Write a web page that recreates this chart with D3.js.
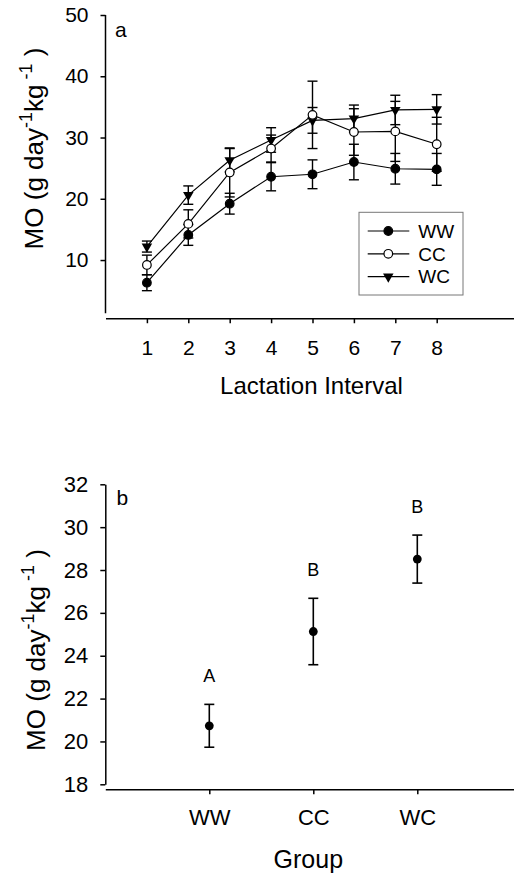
<!DOCTYPE html>
<html>
<head>
<meta charset="utf-8">
<script src="https://cdn.jsdelivr.net/npm/d3@7"></script>
<style>
  body { margin: 0; background: #fff; }
  text { font-family: "Liberation Sans", Arial, sans-serif; fill: #000; }
</style>
</head>
<body>
<div id="chart"></div>
<script>

// panel a data
var intervals = [1, 2, 3, 4, 5, 6, 7, 8];
var wwMean = [6.3, 14.1, 19.2, 23.6, 24.0, 26.0, 24.9, 24.8];
var wwErr  = [1.3, 1.7, 1.7, 2.3, 2.35, 2.9, 2.5, 2.6];
var ccMean = [9.2, 15.9, 24.3, 28.2, 33.7, 30.9, 31.0, 28.9];
var ccErr  = [1.6, 2.3, 4.0, 2.2, 5.5, 3.8, 4.9, 4.4];
var wcMean = [12.2, 20.6, 26.3, 29.6, 32.8, 33.1, 34.5, 34.6];
var wcErr  = [0.9, 1.5, 1.9, 2.0, 2.1, 2.2, 2.4, 2.4];
var yTicksA = [10, 20, 30, 40, 50];

// panel b data
var groups = ["WW", "CC", "WC"];
var groupMean = [20.73, 25.13, 28.51];
var groupErr = [1.0, 1.55, 1.12];
var groupLetters = ["A", "B", "B"];
var yTicksB = [18, 20, 22, 24, 26, 28, 30, 32];

var svg = d3.select("#chart").append("svg")
    .attr("width", 514)
    .attr("height", 880);

var series = [
    {name: "WW", mean: wwMean, err: wwErr, shape: "filled"},
    {name: "CC", mean: ccMean, err: ccErr, shape: "open"},
    {name: "WC", mean: wcMean, err: wcErr, shape: "tri"}
];

function drawMarker(sel, shape) {
    if (shape == "tri") {
        sel.append("path")
            .attr("d", d3.symbol().type(d3.symbolTriangle).size(48))
            .attr("transform", "rotate(180)")
            .attr("fill", "#000");
    } else {
        sel.append("circle")
            .attr("r", 4.3)
            .attr("fill", shape == "open" ? "#fff" : "#000")
            .attr("stroke", "#000")
            .attr("stroke-width", 1.2);
    }
}

function yLabel(g, x, y) {
    var t = g.append("text")
        .attr("transform", "translate(" + x + "," + y + ") rotate(-90)")
        .attr("text-anchor", "middle")
        .style("font-size", "26px");
    t.append("tspan").text("MO (g day");
    t.append("tspan").attr("dy", -11).style("font-size", "18px").text("-1");
    t.append("tspan").attr("dy", 11).text("kg");
    t.append("tspan").attr("dy", -11).style("font-size", "18px").text(" -1");
    t.append("tspan").attr("dy", 11).text(" )");
}

// ---------- panel a ----------
var xA = d3.scaleLinear().domain([0, 10]).range([105.5, 519.5]);
var yA = d3.scaleLinear().domain([0, 50]).range([321.3, 15]);

var gA = svg.append("g");

var xAxisA = gA.append("g")
    .attr("transform", "translate(0," + yA(0.5) + ")")
    .call(d3.axisBottom(xA).tickValues(intervals).tickSize(5).tickPadding(17).tickSizeOuter(0));
xAxisA.selectAll("text").style("font-size", "21px");

var yAxisA = gA.append("g")
    .attr("transform", "translate(" + xA(0) + ",0)")
    .call(d3.axisLeft(yA).tickValues(yTicksA).tickSize(5).tickPadding(12).tickSizeOuter(0));
yAxisA.select(".domain").attr("d", "M0," + yA(1.3) + "V" + yA(50));
yAxisA.selectAll("text").style("font-size", "21px");

gA.selectAll(".domain, .tick line").attr("stroke", "#000").attr("stroke-width", 1.5);

gA.append("text")
    .attr("x", 311.5).attr("y", 394)
    .attr("text-anchor", "middle")
    .style("font-size", "24px")
    .text("Lactation Interval");

yLabel(gA, 43, 148.5);

gA.append("text").attr("x", 115).attr("y", 36.5).style("font-size", "21px").text("a");

var line = d3.line()
    .x(function(d, i) { return xA(intervals[i]); })
    .y(function(d) { return yA(d); });

series.forEach(function(s) {
    gA.append("path")
        .attr("d", line(s.mean))
        .attr("fill", "none")
        .attr("stroke", "#000")
        .attr("stroke-width", 1.2);

    var eb = gA.append("g").selectAll("g")
        .data(s.mean)
        .enter().append("g");
    eb.append("line")
        .attr("x1", function(d, i) { return xA(intervals[i]); })
        .attr("x2", function(d, i) { return xA(intervals[i]); })
        .attr("y1", function(d, i) { return yA(d - s.err[i]); })
        .attr("y2", function(d, i) { return yA(d + s.err[i]); });
    [-1, 1].forEach(function(k) {
        eb.append("line")
            .attr("x1", function(d, i) { return xA(intervals[i]) - 5; })
            .attr("x2", function(d, i) { return xA(intervals[i]) + 5; })
            .attr("y1", function(d, i) { return yA(d + k * s.err[i]); })
            .attr("y2", function(d, i) { return yA(d + k * s.err[i]); });
    });
    eb.selectAll("line").attr("stroke", "#000").attr("stroke-width", 1.4);
});

[series[2], series[0], series[1]].forEach(function(s) {
    gA.append("g").selectAll("g")
        .data(s.mean)
        .enter().append("g")
        .attr("transform", function(d, i) { return "translate(" + xA(intervals[i]) + "," + yA(d) + ")"; })
        .each(function() { drawMarker(d3.select(this), s.shape); });
});

// legend
var legend = gA.append("g").attr("transform", "translate(359,212.3)");
legend.append("rect")
    .attr("width", 104).attr("height", 82.7)
    .attr("fill", "#fff")
    .attr("stroke", "#777")
    .attr("stroke-width", 1);
series.forEach(function(s, i) {
    var row = legend.append("g").attr("transform", "translate(0," + (18.7 + i * 22.8) + ")");
    row.append("line").attr("x1", 8.7).attr("x2", 50.3)
        .attr("stroke", "#000").attr("stroke-width", 1.2);
    drawMarker(row.append("g").attr("transform", "translate(29.3,0)"), s.shape);
    row.append("text").attr("x", 59.3).attr("y", 6.8)
        .style("font-size", "19px").text(s.name);
});

// ---------- panel b ----------
var xB = d3.scaleLinear().domain([0, 4]).range([105.3, 521.3]);
var yB = d3.scaleLinear().domain([18, 32]).range([784.3, 484.3]);

var gB = svg.append("g");

var xAxisB = gB.append("g")
    .attr("transform", "translate(0," + (yB(18) + 5) + ")")
    .call(d3.axisBottom(xB).tickValues([1, 2, 3])
        .tickFormat(function(d) { return groups[d - 1]; })
        .tickSize(5).tickPadding(15).tickSizeOuter(0));
xAxisB.selectAll("text").style("font-size", "22px");

var yAxisB = gB.append("g")
    .attr("transform", "translate(" + xB(0) + ",0)")
    .call(d3.axisLeft(yB).tickValues(yTicksB).tickSize(5).tickPadding(12).tickSizeOuter(0));
yAxisB.selectAll("text").style("font-size", "22px");

gB.selectAll(".domain, .tick line").attr("stroke", "#000").attr("stroke-width", 1.5);

gB.append("text")
    .attr("x", 308.3).attr("y", 868)
    .attr("text-anchor", "middle")
    .style("font-size", "25px")
    .text("Group");

yLabel(gB, 45, 650);

gB.append("text").attr("x", 116.5).attr("y", 505).style("font-size", "21px").text("b");

var pts = gB.append("g").selectAll("g")
    .data(groupMean)
    .enter().append("g");
pts.append("line")
    .attr("x1", function(d, i) { return xB(i + 1); })
    .attr("x2", function(d, i) { return xB(i + 1); })
    .attr("y1", function(d, i) { return yB(d - groupErr[i]); })
    .attr("y2", function(d, i) { return yB(d + groupErr[i]); });
[-1, 1].forEach(function(k) {
    pts.append("line")
        .attr("x1", function(d, i) { return xB(i + 1) - 5; })
        .attr("x2", function(d, i) { return xB(i + 1) + 5; })
        .attr("y1", function(d, i) { return yB(d + k * groupErr[i]); })
        .attr("y2", function(d, i) { return yB(d + k * groupErr[i]); });
});
pts.selectAll("line").attr("stroke", "#000").attr("stroke-width", 1.6);
pts.append("circle")
    .attr("cx", function(d, i) { return xB(i + 1); })
    .attr("cy", function(d) { return yB(d); })
    .attr("r", 4.4)
    .attr("fill", "#000");
pts.append("text")
    .attr("x", function(d, i) { return xB(i + 1); })
    .attr("y", function(d, i) { return yB(d + groupErr[i]) - 22; })
    .attr("text-anchor", "middle")
    .style("font-size", "18px")
    .text(function(d, i) { return groupLetters[i]; });

</script>
</body>
</html>
